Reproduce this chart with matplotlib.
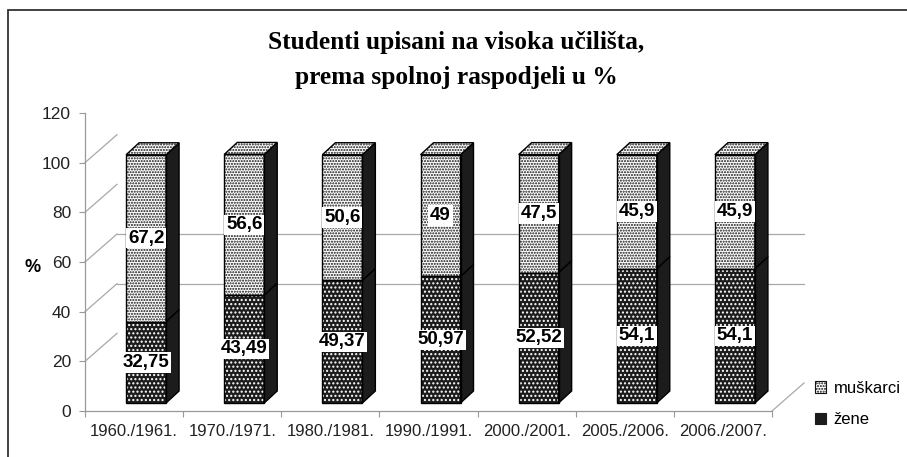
#!/usr/bin/env python3
"""Studenti upisani na visoka ucilista, prema spolnoj raspodjeli u % (3D-style stacked columns)."""
import numpy as np
import matplotlib
matplotlib.use("Agg")
import matplotlib.pyplot as plt
from matplotlib.patches import Polygon, Rectangle, Patch

years = ["1960./1961.", "1970./1971.", "1980./1981.", "1990./1991.",
         "2000./2001.", "2005./2006.", "2006./2007."]
zene = [32.75, 43.49, 49.37, 50.97, 52.52, 54.1, 54.1]
muskarci = [67.2, 56.6, 50.6, 49, 47.5, 45.9, 45.9]
series_names = ["muškarci", "žene"]
yticks = [0, 20, 40, 60, 80, 100, 120]
wall_grid = [40, 60]

plt.rcParams["font.family"] = ["Liberation Sans", "DejaVu Sans"]
plt.rcParams["hatch.linewidth"] = 1.0

W, H = 907, 457
fig = plt.figure(figsize=(W / 100, H / 100), dpi=100)
# axes front plane in pixels: x 85..772, y(0)=411, y(120)=113
ax = fig.add_axes([85 / W, (H - 411) / H, 687 / W, 298 / H])
ax.set_xlim(-0.5, len(years) - 0.5)
ax.set_ylim(0, 120)

sx = 687 / len(years)   # px per category
sy = 298 / 120          # px per unit
WX, WY = 32 / sx, 28 / sy       # back wall depth
BX, BY = 12 / sx, 8 / sy        # bar shift (bars sit mid-depth)
DX, DY = 13 / sx, 12 / sy       # bar depth
bw = 40 / sx

LIGHT = dict(facecolor="white", edgecolor="#111111", hatch="......", linewidth=0)
DARK = dict(facecolor="#1c1c1c", edgecolor="white", hatch="....", linewidth=0)
SIDE = "#1c1c1c"
GRID = "#a8a8a8"

# walls
x_left, x_right = -0.5, len(years) - 0.5
for v in wall_grid:
    ax.plot([x_left + WX, x_right + WX], [v + WY, v + WY], color=GRID, lw=0.9,
            clip_on=False, zorder=1)
for v in yticks[1:-1]:
    ax.plot([x_left, x_left + WX], [v, v + WY], color=GRID, lw=0.9,
            clip_on=False, zorder=1)
ax.plot([x_right, x_right + WX], [0, WY], color=GRID, lw=0.9, clip_on=False, zorder=1)


def face(xy_rect=None, poly=None, style=None, z=3):
    if xy_rect is not None:
        (x, y), w, h = xy_rect
        fill = Rectangle((x, y), w, h, **style, zorder=z, clip_on=False)
        edge = Rectangle((x, y), w, h, fill=False, ec="black", lw=1.0, zorder=z + 0.1,
                         clip_on=False)
    else:
        fill = Polygon(poly, closed=True, **style, zorder=z, clip_on=False)
        edge = Polygon(poly, closed=True, fill=False, ec="black", lw=1.0,
                       zorder=z + 0.1, clip_on=False)
    ax.add_patch(fill)
    ax.add_patch(edge)


for i, (z, m) in enumerate(zip(zene, muskarci)):
    x0 = i - bw / 2 + BX
    for b, h, style in [(0, z, DARK), (z, m, LIGHT)]:
        y0 = b + BY
        face(xy_rect=((x0, y0), bw, h), style=style)
        side = [(x0 + bw, y0), (x0 + bw + DX, y0 + DY),
                (x0 + bw + DX, y0 + h + DY), (x0 + bw, y0 + h)]
        ax.add_patch(Polygon(side, closed=True, fc=SIDE, ec="black", lw=1.0,
                             zorder=3, clip_on=False))
        ax.text(i + BX, b + h / 2 + BY, f"{h:g}".replace(".", ","), ha="center",
                va="center", fontsize=13.5, fontweight="bold", zorder=6,
                bbox=dict(fc="white", ec="none", pad=1.2))
    t = z + m + BY
    top = [(x0, t), (x0 + bw, t), (x0 + bw + DX, t + DY), (x0 + DX, t + DY)]
    face(poly=top, style=LIGHT)

# axes styling
for s in ("top", "right"):
    ax.spines[s].set_visible(False)
for s in ("left", "bottom"):
    ax.spines[s].set_color("#999999")
    ax.spines[s].set_linewidth(0.9)
ax.set_yticks(yticks)
ax.set_yticklabels([str(v) for v in yticks], fontsize=12.5, color="#222222")
ax.set_xticks(np.arange(-0.5, len(years), 1))
ax.set_xticklabels([])
ax.set_xticks(np.arange(len(years)), minor=True)
ax.set_xticklabels(years, minor=True, fontsize=12, color="#222222")
ax.tick_params(axis="x", which="major", length=4, color="#999999")
ax.tick_params(axis="x", which="minor", length=0, pad=9)
ax.tick_params(axis="y", length=4, color="#999999", pad=6)
ax.patch.set_visible(False)

fig.text(33 / W, 1 - 268 / H, "%", ha="center", va="center", fontsize=13,
         fontweight="bold")

fig.text(0.503, 1 - 60 / H, "Studenti upisani na visoka učilišta,\nprema spolnoj raspodjeli u %",
         ha="center", va="center", fontsize=18.3, fontweight="bold",
         family=["Liberation Serif", "DejaVu Serif"], linespacing=1.65)

handles = [Patch(facecolor="white", edgecolor="#111111", hatch="......", lw=0.8),
           Patch(facecolor="#1c1c1c", edgecolor="#1c1c1c", hatch="", lw=0.8)]
leg = fig.legend(handles, series_names, loc="center left",
                 bbox_to_anchor=(803 / W, 1 - 404 / H), frameon=False, fontsize=12,
                 handlelength=0.7, handleheight=0.7, handletextpad=0.45,
                 labelspacing=1.0, borderpad=0.2)

fig.patches.append(Rectangle((8 / W, -10 / H), 920 / W, (H - 10 + 10) / H,
                             transform=fig.transFigure, fill=False, ec="#333333",
                             lw=1.3, clip_on=False))

fig.savefig("out.png", dpi=100)
